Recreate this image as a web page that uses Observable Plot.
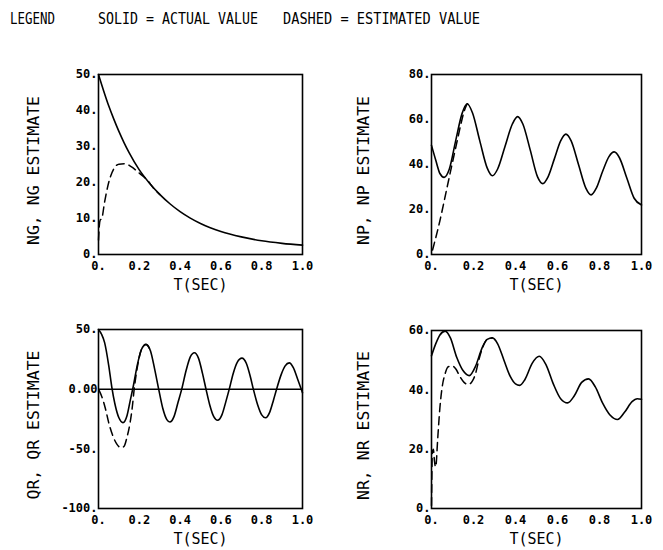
<!DOCTYPE html>
<html>
<head>
<meta charset="utf-8">
<script src="https://cdn.jsdelivr.net/npm/d3@7"></script>
<script src="https://cdn.jsdelivr.net/npm/@observablehq/plot@0.6"></script>
<style>
  html, body { margin: 0; padding: 0; background: #fff; overflow: hidden; }
  #wrap { position: relative; width: 663px; height: 550px; background: #fff; }
  #wrap > svg, #wrap > figure { position: absolute; margin: 0; }
  .legend text { font-family: "DejaVu Sans Mono", monospace; font-size: 16.5px; fill: #000; }
</style>
</head>
<body>
<div id="wrap"></div>
<script>
// ---------- legend ----------
const legendTexts = ["LEGEND", "SOLID = ACTUAL VALUE", "DASHED = ESTIMATED VALUE"];

// ---------- shared axis ticks ----------
const xTicks = [0, 0.2, 0.4, 0.6, 0.8, 1.0];
const xTickLabels = ["0.", "0.2", "0.4", "0.6", "0.8", "1.0"];
const xTitle = "T(SEC)";

// ---------- NG panel ----------
const ngTitle = "NG, NG ESTIMATE";
const ngYTicks = [0, 10, 20, 30, 40, 50];
const ngYTickLabels = ["0.", "10.", "20.", "30.", "40.", "50."];
const ngT = [0, 0.025, 0.05, 0.075, 0.1, 0.125, 0.15, 0.2, 0.25, 0.3, 0.35, 0.4, 0.45, 0.5, 0.6, 0.7, 0.8, 0.9, 1.0];
const ngActual = [50, 45.5, 41.3, 37.6, 34.2, 31.1, 28.3, 23.5, 19.8, 16.7, 14.1, 11.9, 10.1, 8.6, 6.4, 4.9, 3.8, 3.1, 2.6];
const ngEstT = [0, 0.004, 0.008, 0.016, 0.03, 0.05, 0.075, 0.1, 0.13, 0.16, 0.2, 0.24, 0.27, 0.3];
const ngEst = [4, 8, 9.5, 10, 14.6, 20, 23.8, 25.1, 25.2, 24.4, 22.6, 20.6, 18.4, 16.7];

// ---------- NP panel ----------
const npTitle = "NP, NP ESTIMATE";
const npYTicks = [0, 20, 40, 60, 80];
const npYTickLabels = ["0.", "20.", "40.", "60.", "80."];
const npT = [0, 0.02, 0.04, 0.06, 0.085, 0.115, 0.145, 0.17, 0.195, 0.23, 0.265, 0.29, 0.315, 0.35, 0.385, 0.41, 0.435, 0.47, 0.505, 0.53, 0.555, 0.585, 0.615, 0.64, 0.665, 0.70, 0.735, 0.76, 0.785, 0.815, 0.845, 0.87, 0.895, 0.93, 0.965, 1.0];
const npActual = [48.5, 42, 36, 34.3, 38, 50.5, 62.5, 67, 63, 50.5, 38.5, 35, 38, 48, 58, 61.3, 58, 46.5, 34.5, 31.5, 34.5, 42.5, 50.5, 53.5, 50.5, 40, 29.5, 26.5, 29.5, 37, 43.5, 45.6, 43, 34, 25, 22];
const npEstT = [0.005, 0.04, 0.07, 0.1, 0.12, 0.14, 0.155, 0.17];
const npEst = [2, 15, 28, 41, 49.5, 58, 63.5, 67];

// ---------- QR panel ----------
const qrTitle = "QR, QR ESTIMATE";
const qrYTicks = [-100, -50, 0, 50];
const qrYTickLabels = ["-100.", "-50.", "0.00", "50."];
const qrT = [0, 0.015, 0.03, 0.05, 0.065, 0.08, 0.1, 0.12, 0.14, 0.155, 0.17, 0.19, 0.21, 0.233, 0.255, 0.275, 0.295, 0.315, 0.335, 0.35, 0.37, 0.39, 0.408, 0.43, 0.45, 0.47, 0.49, 0.51, 0.527, 0.545, 0.565, 0.584, 0.605, 0.625, 0.641, 0.66, 0.68, 0.703, 0.725, 0.745, 0.759, 0.78, 0.80, 0.819, 0.84, 0.858, 0.873, 0.895, 0.915, 0.935, 0.955, 0.975, 1.0];
const qrActual = [50, 46, 39, 20, 2, -12, -24, -28, -22, -10, 2, 20, 33, 37.5, 32, 17, 0, -16, -25.5, -27.5, -23, -11, 0, 16, 27, 30.5, 26, 13, 0, -13, -23, -26, -21.5, -10, 0, 13, 22.5, 26, 21.5, 10, 0, -13, -21.5, -24, -19, -9, 0, 12, 19.5, 22, 18, 9, -3];
const qrEstT = [0.003, 0.02, 0.035, 0.05, 0.07, 0.09, 0.11, 0.125, 0.14, 0.155, 0.165, 0.175, 0.19, 0.21, 0.233, 0.255];
const qrEst = [-1, -8, -17, -28, -39, -46, -49, -48, -40, -28, -16, 0, 18, 33, 37.5, 32];

// ---------- NR panel ----------
const nrTitle = "NR, NR ESTIMATE";
const nrYTicks = [0, 20, 40, 60];
const nrYTickLabels = ["0.", "20.", "40.", "60."];
const nrT = [0, 0.02, 0.04, 0.065, 0.09, 0.12, 0.15, 0.18, 0.21, 0.24, 0.265, 0.29, 0.315, 0.345, 0.375, 0.40, 0.42, 0.445, 0.48, 0.513, 0.545, 0.58, 0.615, 0.648, 0.68, 0.715, 0.748, 0.78, 0.815, 0.85, 0.886, 0.92, 0.955, 0.98, 1.0];
const nrActual = [51.5, 55.5, 58.5, 59.8, 57.5, 51, 46.5, 44.8, 48, 54, 57, 57.5, 55.5, 50, 44.5, 42, 41.5, 43.5, 49, 51.3, 48.5, 42, 37, 35.6, 38, 42.5, 43.7, 41, 35.5, 31.5, 30, 32.5, 36, 37, 36.8];
const nrEstT = [0, 0.004, 0.009, 0.014, 0.02, 0.03, 0.04, 0.05, 0.065, 0.08, 0.1, 0.116, 0.135, 0.155, 0.175, 0.195, 0.21, 0.225, 0.245, 0.265, 0.29];
const nrEst = [1, 19, 20, 16, 14, 24, 34, 40.5, 45.5, 47.8, 48, 47, 44.5, 42.5, 41.8, 43, 45.5, 50, 54.5, 57, 57.5];

// ---------- drawing ----------
const wrap = document.getElementById("wrap");

// legend (text above the charts)
const legendPos = [{x: 10, w: 45}, {x: 98, w: 160}, {x: 283, w: 197}];
const ns = "http://www.w3.org/2000/svg";
const lg = document.createElementNS(ns, "svg");
lg.setAttribute("class", "legend");
lg.setAttribute("width", 663);
lg.setAttribute("height", 36);
lg.style.left = "0px"; lg.style.top = "0px";
legendTexts.forEach((s, i) => {
  const t = document.createElementNS(ns, "text");
  t.setAttribute("x", legendPos[i].x);
  t.setAttribute("y", 24);
  t.setAttribute("textLength", legendPos[i].w);
  t.setAttribute("lengthAdjust", "spacingAndGlyphs");
  t.textContent = s;
  lg.appendChild(t);
});
wrap.appendChild(lg);

const zip = (xs, ys) => xs.map((t, i) => ({t, v: ys[i]}));

function panel({left, top, width, height, mL, mR, mT, mB, yDomain, yTicks, yLabels, title, titleDx, actual, est, zeroLine}) {
  const marks = [];
  if (zeroLine) marks.push(Plot.ruleY([0], {stroke: "black", strokeWidth: 1.5}));
  marks.push(Plot.line(actual, {x: "t", y: "v", curve: "monotone-x", stroke: "black", strokeWidth: 1.6}));
  marks.push(Plot.line(est, {x: "t", y: "v", curve: "monotone-x", stroke: "black", strokeWidth: 1.5, strokeDasharray: "8,5"}));
  marks.push(Plot.frame({stroke: "black", strokeWidth: 1.6}));
  marks.push(Plot.text([title], {text: d => d, frameAnchor: "left", textAnchor: "middle", lineAnchor: "middle",
    dx: titleDx, dy: 6, rotate: -90,
    fontSize: 16.5, fontWeight: "normal", fontFamily: "DejaVu Sans Mono", fill: "black"}));
  marks.push(Plot.text([xTitle], {text: d => d, frameAnchor: "bottom", lineAnchor: "middle", dy: 31,
    fontSize: 15, fontWeight: "normal", fontFamily: "DejaVu Sans Mono", fill: "black"}));
  const chart = Plot.plot({
    width, height,
    marginLeft: mL, marginRight: mR, marginTop: mT, marginBottom: mB,
    style: {fontFamily: "DejaVu Sans Mono", fontSize: "12px", fontWeight: "bold", color: "black", background: "transparent", overflow: "visible"},
    x: {domain: [0, 1], ticks: xTicks, tickFormat: d => xTickLabels[xTicks.indexOf(d)], tickSize: 0, tickPadding: 7, label: null},
    y: {domain: yDomain, ticks: yTicks, tickFormat: d => yLabels[yTicks.indexOf(d)], tickSize: 0, tickPadding: 1, label: null},
    marks
  });
  chart.style.position = "absolute";
  chart.style.left = left + "px";
  chart.style.top = top + "px";
  wrap.appendChild(chart);
}

panel({left: 0, top: 40, width: 330, height: 255, mL: 98, mR: 28, mT: 34, mB: 41,
  yDomain: [0, 50], yTicks: ngYTicks, yLabels: ngYTickLabels, title: ngTitle, titleDx: -65,
  actual: zip(ngT, ngActual), est: zip(ngEstT, ngEst)});
panel({left: 330, top: 40, width: 330, height: 255, mL: 101, mR: 19, mT: 34, mB: 41,
  yDomain: [0, 80], yTicks: npYTicks, yLabels: npYTickLabels, title: npTitle, titleDx: -68,
  actual: zip(npT, npActual), est: zip(npEstT, npEst)});
panel({left: 0, top: 295, width: 330, height: 255, mL: 98, mR: 28, mT: 34, mB: 42,
  yDomain: [-100, 50], yTicks: qrYTicks, yLabels: qrYTickLabels, title: qrTitle, titleDx: -65,
  actual: zip(qrT, qrActual), est: zip(qrEstT, qrEst), zeroLine: true});
panel({left: 330, top: 295, width: 330, height: 255, mL: 101, mR: 19, mT: 35, mB: 42,
  yDomain: [0, 60], yTicks: nrYTicks, yLabels: nrYTickLabels, title: nrTitle, titleDx: -68,
  actual: zip(nrT, nrActual), est: zip(nrEstT, nrEst)});
</script>
</body>
</html>
